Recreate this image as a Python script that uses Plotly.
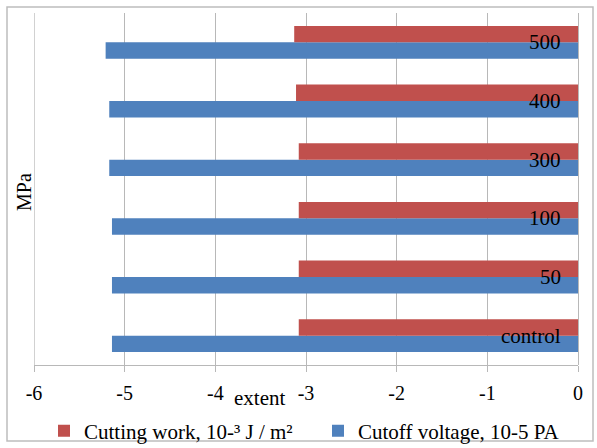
import plotly.graph_objects as go

# Treatment pressure levels, MPa (bottom to top)
categories = ["control", "50", "100", "300", "400", "500"]
# Cutting work, 10^-3 J/m^2
cutting_work = [-3.08, -3.08, -3.08, -3.08, -3.11, -3.13]
# Cutoff voltage, 10^-5 Pa
cutoff_voltage = [-5.14, -5.14, -5.14, -5.17, -5.17, -5.21]

x_ticks = [-6, -5, -4, -3, -2, -1, 0]
x_tick_labels = ["-6", "-5", "-4", "-3", "-2", "-1", "0"]

RED = "#C0504D"
BLUE = "#4F81BD"
GRID = "#B8B8B8"
FONT = "Liberation Serif, Times New Roman, serif"

# plot area geometry in pixels for the paper-referenced frame
L, R, T, B = 34, 578, 13, 365
W, H = R - L, B - T

def px(xp):
    return (xp - L) / W

def py(yp):
    return (B - yp) / H

fig = go.Figure()
fig.add_trace(go.Bar(
    y=categories, x=cutoff_voltage, orientation="h",
    name="Cutoff voltage, 10-5 PA", marker=dict(color=BLUE, line=dict(width=0)),
    legend="legend2",
))
fig.add_trace(go.Bar(
    y=categories, x=cutting_work, orientation="h",
    name="Cutting work, 10-³ J / m²", marker=dict(color=RED, line=dict(width=0)),
    legend="legend",
))

legend_style = dict(
    orientation="h", yanchor="middle", y=py(431), xanchor="left",
    font=dict(family=FONT, size=21, color="black"),
    bgcolor="rgba(0,0,0,0)",
)

# category labels sit just inside the zero line, right-aligned;
# positioned by category index on the category axis
cat_labels = [
    dict(text=c, xref="x", yref="y", x=0, y=i, xanchor="right", yanchor="middle",
         xshift=-15, showarrow=False, font=dict(family=FONT, size=21, color="black"))
    for i, c in enumerate(categories)
]

fig.update_layout(
    width=597, height=448,
    margin=dict(l=L, r=597 - R, t=T, b=448 - B, autoexpand=False),
    paper_bgcolor="white", plot_bgcolor="white",
    barmode="group", bargap=0.44, bargroupgap=0,
    font=dict(family=FONT, size=20, color="black"),
    showlegend=True,
    legend=dict(legend_style, x=px(44)),
    legend2=dict(legend_style, x=px(318)),
    xaxis=dict(
        range=[-6, 0], tickvals=x_ticks, ticktext=x_tick_labels,
        showgrid=True, gridcolor=GRID, gridwidth=1.3,
        zeroline=True, zerolinecolor=GRID, zerolinewidth=1.3,
        showline=True, linecolor=GRID, linewidth=1.3,
        ticks="outside", ticklen=6, tickcolor=GRID, tickwidth=1.3,
        ticklabelstandoff=4,
        tickfont=dict(family=FONT, size=20, color="black"),
    ),
    yaxis=dict(
        type="category", categoryorder="array", categoryarray=categories,
        range=[-0.5, len(categories) - 0.5],
        showticklabels=False, showgrid=False, zeroline=False, showline=False, ticks="",
    ),
    shapes=[
        # outer chart frame
        dict(type="rect", xref="paper", yref="paper",
             x0=px(7), x1=px(593), y0=py(441), y1=py(7),
             line=dict(color="#BDBDBD", width=1.5), fillcolor="rgba(0,0,0,0)", layer="below"),
        # left value-axis boundary line
        dict(type="line", xref="x", yref="paper", x0=-6, x1=-6, y0=0, y1=1,
             line=dict(color=GRID, width=1.3)),
    ],
    annotations=cat_labels + [
        dict(text="MPa", textangle=-90, xref="paper", yref="paper",
             x=px(24), y=py(192), showarrow=False, xanchor="center", yanchor="middle",
             font=dict(family=FONT, size=20, color="black")),
        dict(text="extent", xref="paper", yref="paper",
             x=px(259), y=py(398), showarrow=False, xanchor="center", yanchor="middle",
             font=dict(family=FONT, size=21, color="black")),
    ],
)

fig.write_html("out.html")
